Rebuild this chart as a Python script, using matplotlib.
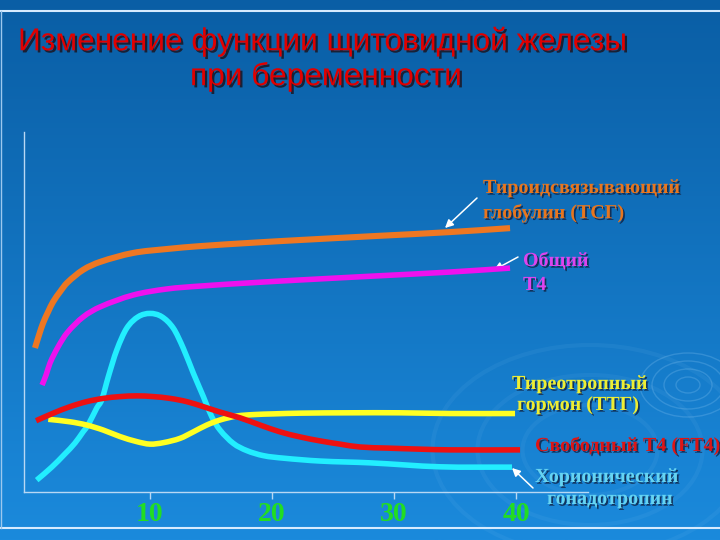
import numpy as np
import matplotlib.pyplot as plt
import matplotlib.patheffects as pe
from matplotlib.patches import Ellipse, PathPatch
from matplotlib.path import Path

# weeks of pregnancy (x) and relative level (y, 0-100)
tsg_weeks = [0.57, 0.90, 1.23, 1.64, 2.05, 2.62, 3.20, 4.51, 5.90, 8.61, 11.39,
             14.10, 18.20, 22.30, 28.44, 34.59, 39.51]
tsg_level = [40.0, 43.6, 46.9, 50.0, 52.8, 55.6, 58.1, 61.7, 63.9, 66.4, 67.5,
             68.3, 69.2, 70.0, 71.1, 72.2, 73.3]

t4_weeks = [1.15, 1.48, 1.80, 2.46, 3.20, 4.51, 5.90, 8.61, 11.39, 14.10, 18.20,
            22.30, 28.44, 34.59, 39.51]
t4_level = [29.7, 32.5, 35.8, 40.3, 44.2, 48.6, 51.4, 54.7, 56.4, 57.2, 58.1,
            58.9, 60.0, 61.1, 62.2]

hcg_weeks = [0.71, 1.94, 3.03, 3.85, 4.51, 4.92, 5.63, 6.04, 6.58, 7.27, 8.09,
             9.04, 10.0, 10.96, 11.91, 12.73, 13.55, 14.37, 15.06, 15.74, 16.83,
             17.93, 19.29, 20.93, 23.93, 28.03, 33.77, 39.67]
hcg_level = [3.3, 6.9, 10.6, 13.6, 16.7, 18.6, 23.3, 25.6, 32.0, 39.4, 45.5,
             48.7, 49.6, 48.7, 45.5, 39.9, 33.0, 26.5, 20.9, 17.2, 13.5,
             11.5, 10.1, 9.4, 8.6, 8.1, 7.0, 6.9]

ft4_weeks = [0.66, 2.07, 3.44, 4.81, 6.17, 7.54, 8.91, 10.27, 11.64, 13.01, 14.37,
             15.74, 17.38, 19.02, 20.66, 22.30, 23.93, 25.57, 27.21, 29.43, 32.13,
             34.59, 40.33]
ft4_level = [19.8, 21.9, 23.7, 25.1, 26.0, 26.5, 26.7, 26.5, 26.0, 25.1, 23.7,
             22.2, 20.6, 18.6, 16.7, 15.3, 14.2, 13.3, 12.5, 12.2, 11.9,
             11.7, 11.7]

tsh_weeks = [1.66, 3.44, 4.81, 6.17, 7.54, 8.91, 10.0, 11.09, 12.46, 13.55, 14.65,
             15.74, 17.11, 18.47, 20.11, 22.30, 26.39, 30.49, 34.59, 39.92]
tsh_level = [20.2, 19.5, 18.6, 17.2, 15.4, 14.0, 13.3, 13.7, 14.9, 16.7, 18.6,
             20.0, 21.1, 21.5, 21.7, 21.9, 22.0, 22.0, 21.8, 21.8]

week_ticks = [10, 20, 30, 40]

W, H = 720, 540


def fx(px):
    return px / W


def fy(py):
    return 1 - py / H


def smooth_path(xs, ys):
    # smooth curve through the read points (cubic Bezier, slopes from neighbours)
    x = np.asarray(xs, float)
    y = np.asarray(ys, float)
    n = len(x)
    m = np.empty(n)
    m[0] = (y[1] - y[0]) / (x[1] - x[0])
    m[-1] = (y[-1] - y[-2]) / (x[-1] - x[-2])
    for i in range(1, n - 1):
        m[i] = (y[i + 1] - y[i - 1]) / (x[i + 1] - x[i - 1])
    verts = [(x[0], y[0])]
    codes = [Path.MOVETO]
    for i in range(n - 1):
        dx = x[i + 1] - x[i]
        verts += [(x[i] + dx / 3, y[i] + m[i] * dx / 3),
                  (x[i + 1] - dx / 3, y[i + 1] - m[i + 1] * dx / 3),
                  (x[i + 1], y[i + 1])]
        codes += [Path.CURVE4] * 3
    return Path(verts, codes)


fig = plt.figure(figsize=(7.2, 5.4), dpi=100)

# slide background
bg = fig.add_axes([0, 0, 1, 1])
grad = np.linspace(0, 1, 256).reshape(-1, 1)
top = np.array([10, 94, 165]) / 255
bottom = np.array([27, 138, 220]) / 255
img = (top + (bottom - top) * grad[:, :, None]).reshape(256, 1, 3)
bg.imshow(img, aspect="auto", extent=[0, W, H, 0])
bg.set_xlim(0, W)
bg.set_ylim(H, 0)
bg.axis("off")
bg.plot([0, W], [11, 11], color="#d6ebff", lw=1.5)
bg.plot([0, W], [528, 528], color="#d6ebff", lw=1.5)
bg.plot([1, 1], [11, 528], color="#9cc8ee", lw=1.0)
for r in [8, 16, 24, 32]:
    bg.add_patch(Ellipse((688, 385), 2 * r * 1.5, 2 * r, fill=False,
                         ec="#8fcaf5", lw=1.0, alpha=0.25))
for r in [45, 75, 105]:
    bg.add_patch(Ellipse((590, 450), 2 * r * 1.5, 2 * r, fill=False,
                         ec="#8fcaf5", lw=3, alpha=0.08))

# chart axes
ax = fig.add_axes([fx(24), fy(492), fx(588) - fx(24), (492 - 132) / H])
ax.set_facecolor("none")
ax.set_xlim(-0.33, 45.9)
ax.set_ylim(0, 100)

lw = 4.0
series = [
    (hcg_weeks, hcg_level, "#22eeff", lw, 3),
    (tsh_weeks, tsh_level, "#ffff22", lw, 4),
    (ft4_weeks, ft4_level, "#ee1111", lw, 5),
    (t4_weeks, t4_level, "#ee11ee", lw, 6),
    (tsg_weeks, tsg_level, "#ee7722", lw + 0.4, 7),
]
for xs, ys, color, width, z in series:
    ax.add_patch(PathPatch(smooth_path(xs, ys), fill=False, ec=color, lw=width,
                           capstyle="butt", joinstyle="round", zorder=z))

for s in ["top", "right"]:
    ax.spines[s].set_visible(False)
for s in ["left", "bottom"]:
    ax.spines[s].set_color("#b8d8f4")
    ax.spines[s].set_linewidth(1.0)
ax.set_xticks(week_ticks)
ax.set_xticklabels([str(w) for w in week_ticks])
ax.set_yticks([])
ax.tick_params(axis="x", colors="#b8d8f4", length=5, width=1, pad=2)
for lab in ax.get_xticklabels():
    lab.set_color("#22dd22")
    lab.set_fontfamily("Liberation Serif")
    lab.set_fontweight("bold")
    lab.set_fontsize(20)

# title
shadow = [pe.SimplePatchShadow(offset=(1.6, -1.6), shadow_rgbFace="#1a1a2a", alpha=0.9),
          pe.Normal()]
title_kw = dict(family="Liberation Sans", fontsize=22.8, color="#e00000",
                va="center", ha="left", path_effects=shadow)
fig.text(fx(18), fy(42), "Изменение функции щитовидной железы", **title_kw)
fig.text(fx(190), fy(77), "при беременности", **title_kw)

# curve labels
lab_shadow = [pe.SimplePatchShadow(offset=(1.2, -1.2), shadow_rgbFace="#102040", alpha=0.8),
              pe.Normal()]


def label(px, py, txt, color):
    fig.text(fx(px), fy(py), txt, family="Liberation Serif", fontweight="bold",
             fontsize=14.4, color=color, va="center", ha="left", path_effects=lab_shadow)


label(483, 188, "Тироидсвязывающий", "#e8761e")
label(483, 213, "глобулин (ТСГ)", "#e8761e")
label(523, 261, "Общий", "#dd44ee")
label(523, 285, "Т4", "#dd44ee")
label(512, 384, "Тиреотропный", "#eeee33")
label(517, 405, "гормон (ТТГ)", "#eeee33")
label(535, 446, "Свободный Т4 (FT4)", "#dd1515")
label(535, 477, "Хорионический", "#66d4f2")
label(547, 499, "гонадотропин", "#66d4f2")

# pointer arrows
arrow = dict(arrowstyle="-|>", color="white", lw=1.1, mutation_scale=12,
             shrinkA=0, shrinkB=0)
for (x0, y0), (x1, y1) in [((477, 198), (445, 228)),
                           ((518, 257), (494, 270)),
                           ((533, 488), (512, 468))]:
    bg.annotate("", xy=(x1, y1), xytext=(x0, y0), arrowprops=arrow, zorder=8)

fig.savefig("out.png", dpi=100)
